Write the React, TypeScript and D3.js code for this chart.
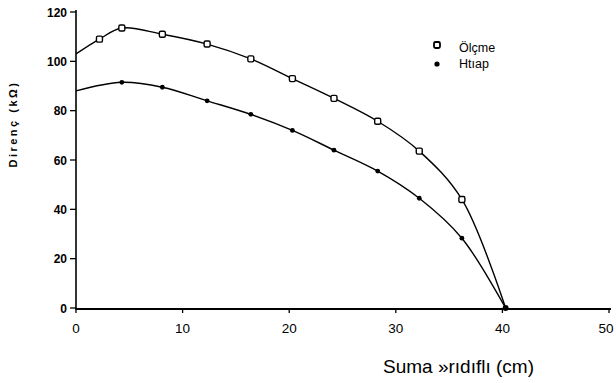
import * as d3 from 'd3';
import { useEffect, useRef } from 'react';

// measured distance (cm)
const olcmeX = [2.2, 4.3, 8.1, 12.3, 16.4, 20.3, 24.2, 28.3, 32.2, 36.2];
const olcmeY = [109, 113.5, 111, 107, 101, 93, 85, 75.7, 63.6, 44];
const hesapX = [4.3, 8.1, 12.3, 16.4, 20.3, 24.2, 28.3, 32.2, 36.2];
const hesapY = [91.5, 89.5, 84, 78.5, 72, 64, 55.5, 44.5, 28.3];
// curve end points (no marker)
const olcmeStart = [0, 103];
const hesapStart = [0, 88];
const zeroPoint = [40.3, 0];

const xTicks = [0, 10, 20, 30, 40, 50];
const yTicks = [0, 20, 40, 60, 80, 100, 120];
const legendLabels = ['Ölçme', 'Htıap'];
const xTitle = 'Suma »rıdıflı (cm)';
const yTitle = 'Direnç (kΩ)';

const App = () => {
  const width = 616;
  const height = 383;
  const svgRef = useRef(null);

  useEffect(() => {
    const svg = d3.select(svgRef.current);
    svg.selectAll('*').remove();

    const xScale = d3.scaleLinear().domain([0, 50]).range([76, 609]);
    const yScale = d3.scaleLinear().domain([0, 120]).range([308, 12]);
    const font = '"Liberation Sans", Arial, sans-serif';

    // y axis
    svg.append('line')
      .attr('x1', 76).attr('x2', 76)
      .attr('y1', yScale(120) - 2).attr('y2', yScale(0) + 2)
      .attr('stroke', 'black').attr('stroke-width', 1.6);
    yTicks.forEach(t => {
      svg.append('line')
        .attr('x1', 70).attr('x2', 76)
        .attr('y1', yScale(t)).attr('y2', yScale(t))
        .attr('stroke', 'black').attr('stroke-width', 1.3);
      svg.append('text')
        .attr('x', 67).attr('y', yScale(t) + 4.5)
        .attr('text-anchor', 'end')
        .attr('font-family', font).attr('font-size', 12).attr('font-weight', 'bold')
        .text(t);
    });

    // x axis
    svg.append('line')
      .attr('x1', 76).attr('x2', 611)
      .attr('y1', yScale(0) + 1).attr('y2', yScale(0) + 1)
      .attr('stroke', 'black').attr('stroke-width', 2);
    xTicks.forEach(t => {
      svg.append('line')
        .attr('x1', xScale(t)).attr('x2', xScale(t))
        .attr('y1', yScale(0)).attr('y2', yScale(0) + 5)
        .attr('stroke', 'black').attr('stroke-width', 1.3);
      svg.append('text')
        .attr('x', Math.min(xScale(t), 606)).attr('y', yScale(0) + 25)
        .attr('text-anchor', 'middle')
        .attr('font-family', font).attr('font-size', 13.5)
        .text(t);
    });

    // titles
    svg.append('text')
      .attr('x', 383).attr('y', 373)
      .attr('font-family', font).attr('font-size', 19)
      .text(xTitle);
    svg.append('text')
      .attr('transform', `translate(17,${124}) rotate(-90)`)
      .attr('text-anchor', 'middle')
      .attr('font-family', font).attr('font-size', 11).attr('font-weight', 'bold')
      .attr('letter-spacing', 2.5)
      .text(yTitle);

    const line = d3.line()
      .x(d => xScale(d[0]))
      .y(d => yScale(d[1]))
      .curve(d3.curveCatmullRom.alpha(0.5));

    const olcmePts = [olcmeStart, ...olcmeX.map((x, i) => [x, olcmeY[i]]), zeroPoint];
    const hesapPts = [hesapStart, ...hesapX.map((x, i) => [x, hesapY[i]]), zeroPoint];

    svg.append('path').attr('d', line(olcmePts))
      .attr('fill', 'none').attr('stroke', 'black').attr('stroke-width', 1.4);
    svg.append('path').attr('d', line(hesapPts))
      .attr('fill', 'none').attr('stroke', 'black').attr('stroke-width', 1.4);

    // markers
    svg.selectAll('.om').data(olcmeX.map((x, i) => [x, olcmeY[i]])).enter()
      .append('rect')
      .attr('x', d => xScale(d[0]) - 3).attr('y', d => yScale(d[1]) - 3)
      .attr('width', 6).attr('height', 6).attr('rx', 1.5)
      .attr('fill', 'white').attr('stroke', 'black').attr('stroke-width', 1.4);
    svg.selectAll('.hm').data(hesapX.map((x, i) => [x, hesapY[i]])).enter()
      .append('circle')
      .attr('cx', d => xScale(d[0])).attr('cy', d => yScale(d[1]))
      .attr('r', 2.4).attr('fill', 'black');
    svg.append('circle')
      .attr('cx', xScale(zeroPoint[0])).attr('cy', yScale(0))
      .attr('r', 3).attr('fill', 'black');

    // legend
    svg.append('rect')
      .attr('x', 434).attr('y', 42).attr('width', 6).attr('height', 6).attr('rx', 1.5)
      .attr('fill', 'white').attr('stroke', 'black').attr('stroke-width', 1.8);
    svg.append('circle').attr('cx', 437).attr('cy', 64).attr('r', 2.6).attr('fill', 'black');
    legendLabels.forEach((l, i) => {
      svg.append('text')
        .attr('x', 459).attr('y', 52 + i * 16)
        .attr('font-family', font).attr('font-size', 12.5)
        .text(l);
    });
  }, []);

  return (
    <svg ref={svgRef} width={width} height={height} viewBox={`0 0 ${width} ${height}`}
      style={{ position: 'absolute', left: 0, top: 0, background: 'white' }} />
  );
};

export default App;
